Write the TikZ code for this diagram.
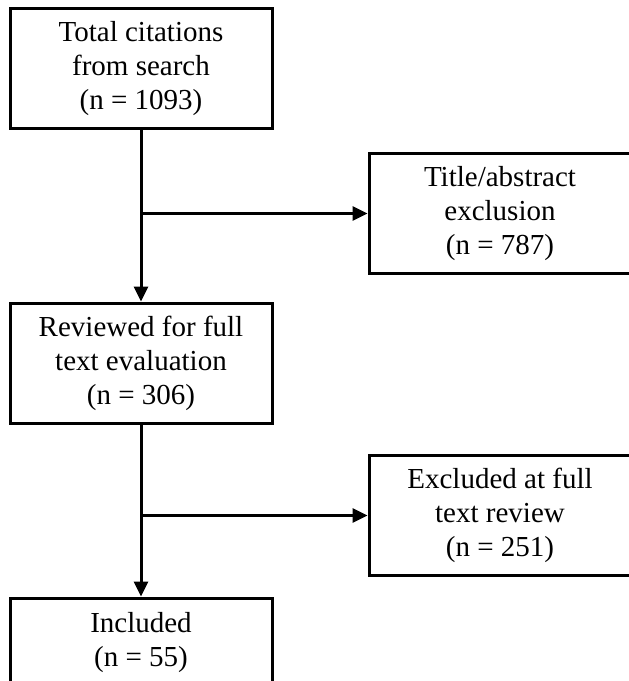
\documentclass[tikz,border=0pt]{standalone}
\usepackage{fontspec}
\setmainfont{Liberation Serif}
\usetikzlibrary{arrows.meta}

\tikzset{
    box/.style={draw, line width=3pt, minimum width=262pt, minimum height=120pt,
        align=center, inner sep=0pt, font=\fontsize{29}{34}\selectfont},
    flow/.style={line width=3pt, -{Triangle[length=15pt, width=14pt]}}
}

\begin{document}
\begin{tikzpicture}[x=1pt, y=-1pt]

    \useasboundingbox (0,0) rectangle (629,681);

    % ==========================================
    % MAIN COLUMN: search -> review -> included
    % ==========================================

    \node[box] (total) at (141, 68.5) {Total citations\\from search\\(n = 1093)};
    \node[box] (reviewed) at (141, 363) {Reviewed for full\\text evaluation\\(n = 306)};
    \node[box, minimum height=90pt] (included) at (141, 643) {Included\\(n = 55)};

    % ==========================================
    % RIGHT COLUMN: exclusions
    % ==========================================

    \node[box] (titleabs) at (500, 213.5) {Title/abstract\\exclusion\\(n = 787)};
    \node[box] (fulltext) at (500, 515.5) {Excluded at full\\text review\\(n = 251)};

    % Vertical flow
    \draw[flow] (total) -- (reviewed);
    \draw[flow] (reviewed) -- (included);

    % Branches to exclusions
    \draw[flow] (total.south |- titleabs.west) -- (titleabs.west);
    \draw[flow] (reviewed.south |- fulltext.west) -- (fulltext.west);

\end{tikzpicture}
\end{document}
